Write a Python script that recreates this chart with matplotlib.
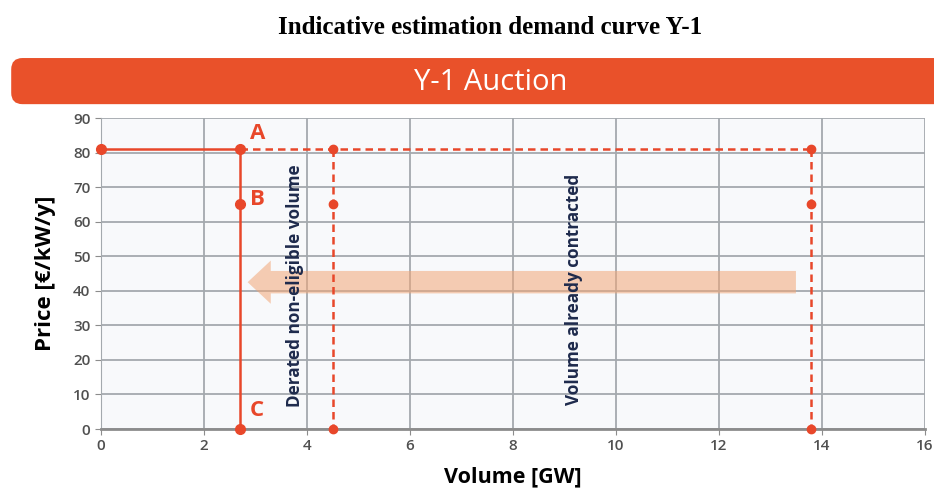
import numpy as np
import matplotlib as mpl
from matplotlib import pyplot as plt
from matplotlib.patches import FancyBboxPatch, FancyArrow

# demand curve data
price_cap = 81
price_mid = 65
vol_net = 2.7
vol_derated = 4.5
vol_total = 13.8

solid_x = [0, vol_net, vol_net]
solid_y = [price_cap, price_cap, 0]
solid_pts_x = [0, vol_net, vol_net, vol_net]
solid_pts_y = [price_cap, price_cap, price_mid, 0]

dash_top_x = [vol_net, vol_total]
dash_top_y = [price_cap, price_cap]
dash_vert_x = [vol_derated, vol_total]
dash_pts_y = [price_cap, price_mid, 0]

point_labels = ["A", "B", "C"]
point_label_y = [85.5, 66.5, 5.5]

x_ticks = np.arange(0, 17, 2)
y_ticks = np.arange(0, 91, 10)

orange = '#E8472A'
navy = '#1E2A4C'
tick_grey = '#505050'

fig = plt.figure(figsize=(9.34, 4.96), dpi=100)
fig.patch.set_facecolor('white')

fig.text(0.525, 0.945, "Indicative estimation demand curve Y-1", ha='center', va='center',
         family='Liberation Serif', weight='bold', size=18)

# banner
banner = FancyBboxPatch((0.012, 0.79), 1.05, 0.093, boxstyle="round,pad=0,rounding_size=0.012",
                        transform=fig.transFigure, facecolor='#E9512A', edgecolor='none',
                        mutation_aspect=1.9)
fig.patches.append(banner)
fig.text(0.525, 0.834, "Y-1 Auction", ha='center', va='center', color='white',
         family='Open Sans', size=21)

ax = fig.add_axes([0.108, 0.135, 0.882, 0.627])
ax.set_facecolor('#F8F9FB')
ax.set_xlim(0, 16)
ax.set_ylim(0, 90)
ax.set_xticks(x_ticks)
ax.set_yticks(y_ticks)
ax.grid(True, color='#A4A9AE', linewidth=1.3)
ax.set_axisbelow(True)
for s in ['top', 'right']:
    ax.spines[s].set_visible(False)
ax.spines['left'].set_color('#A4A9AE')
ax.spines['bottom'].set_color('#8C8C8C')
ax.spines['bottom'].set_linewidth(2)
ax.tick_params(colors='#8C8C8C', labelcolor=tick_grey, labelsize=11, length=4)
for lbl in ax.get_xticklabels() + ax.get_yticklabels():
    lbl.set_family('Open Sans')
    lbl.set_weight('semibold')

# arrow
arrow = FancyArrow(13.5, 42.5, -10.65, 0, width=6.5, head_width=12.5, head_length=0.45,
                   length_includes_head=True, color='#F2A676', alpha=0.55, linewidth=0, zorder=2)
ax.add_patch(arrow)

# solid curve
ax.plot(solid_x, solid_y, color=orange, linewidth=1.8, zorder=3, clip_on=False)
ax.plot(solid_pts_x, solid_pts_y, 'o', color=orange, markersize=7, zorder=4, clip_on=False)

# dashed lines
ax.plot(dash_top_x, dash_top_y, color=orange, linewidth=1.8, linestyle=(0, (3, 2)), zorder=3)
for vx in dash_vert_x:
    ax.plot([vx, vx], [price_cap, 0], color=orange, linewidth=1.8, linestyle=(0, (3, 2)), zorder=3)
    ax.plot([vx] * len(dash_pts_y), dash_pts_y, 'o', color=orange, markersize=6, zorder=4, clip_on=False)

for lbl, ly in zip(point_labels, point_label_y):
    ax.text(vol_net + 0.2, ly, lbl, color=orange, weight='bold', size=16,
            family='Open Sans', ha='left', va='center')

ax.text(3.77, 41.5, "Derated non-eligible volume", rotation=90, ha='center', va='center',
        color=navy, weight='bold', size=12.3, family='Open Sans', zorder=5)
ax.text(9.18, 40.5, "Volume already contracted", rotation=90, ha='center', va='center',
        color=navy, weight='bold', size=12.3, family='Open Sans', zorder=5)

ax.set_xlabel("Volume [GW]", family='Open Sans', weight='bold', size=15.5, labelpad=9)
ax.set_ylabel("Price [€/kW/y]", family='Open Sans', weight='bold', size=16, labelpad=12)

fig.savefig("out.png", dpi=100)
